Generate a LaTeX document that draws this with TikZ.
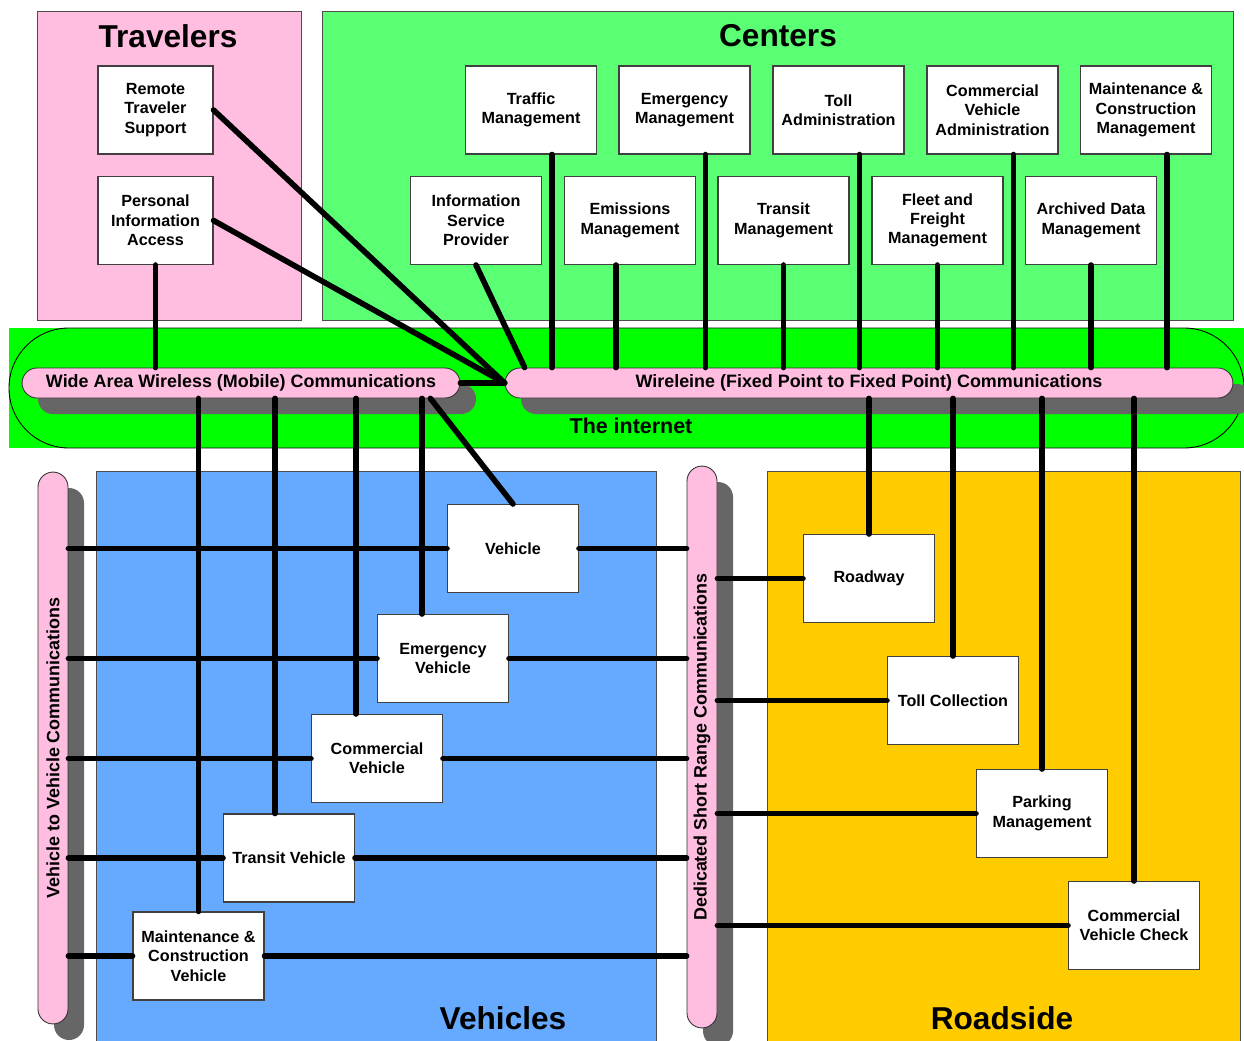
\documentclass[tikz,border=0pt]{standalone}
\usepackage{fontspec}
\setmainfont{Liberation Sans}

\definecolor{travpink}{RGB}{255,190,224}
\definecolor{centgreen}{RGB}{90,255,115}
\definecolor{netgreen}{RGB}{0,255,0}
\definecolor{vehblue}{RGB}{102,170,255}
\definecolor{roadyellow}{RGB}{255,204,0}
\definecolor{shadowgray}{RGB}{102,102,102}

\tikzset{
  box/.style={draw=black!75, line width=.6pt, fill=white, minimum width=2.62cm,
    minimum height=1.76cm, align=center, inner sep=1pt,
    font=\fontsize{9.2}{11}\selectfont\bfseries},
  pill/.style={draw=black!80, line width=.5pt, fill=travpink, rounded corners=.3cm,
    minimum height=.6cm, inner sep=0pt, font=\fontsize{10.2}{12}\selectfont\bfseries},
  pillshadow/.style={fill=shadowgray, rounded corners=.3cm},
  region/.style={draw=black!70, line width=.5pt},
  title/.style={font=\fontsize{18}{20}\selectfont\bfseries},
  link/.style={line width=3.2pt, line cap=round}
}

\begin{document}
\begin{tikzpicture}[x=0.02cm, y=-0.02cm]
  \useasboundingbox (0,0) rectangle (1244,1041);
  % the four areas
  \draw[region, fill=travpink] (37,11) rectangle (301,320);
  \draw[region, fill=centgreen] (322,11) rectangle (1233,320);
  \draw[region, fill=vehblue] (96,471) rectangle (656,1042);
  \draw[region, fill=roadyellow] (767,471) rectangle (1240,1042);
  \fill[netgreen] (9,328) rectangle (1244,448);
  \draw[line width=.5pt, rounded corners=1.2cm] (9,328) rectangle (1244,448);
  %
  \node[title] (trav) at (168,36) {Travelers};
  \node[title] (cent) at (778,36) {Centers};
  \node[title] (vehs) at (503,1018) {Vehicles};
  \node[title] (road) at (1002,1018) {Roadside};
  \node[font=\fontsize{12.2}{14}\selectfont\bfseries] (net) at (631,426) {The internet};
  %
  % communication pills and their shadows
  \fill[pillshadow] (38,384) rectangle (476,414);
  \fill[pillshadow] (521,384) rectangle (1252,414);
  \fill[pillshadow] (54,488) rectangle (84,1040);
  \fill[pillshadow] (703,482) rectangle (733,1046);
  \node[pill, minimum width=8.76cm] (waw) at (241,383)
       {Wide Area Wireless (Mobile) Communications};
  \node[pill, minimum width=14.56cm] (wire) at (869,383)
       {Wireleine (Fixed Point to Fixed Point) Communications};
  \node[pill, minimum width=11.04cm, rotate=90] (v2v) at (53,748)
       {Vehicle to Vehicle Communications};
  \node[pill, minimum width=11.24cm, rotate=90] (dsrc) at (702,747)
       {Dedicated Short Range Communications};
  %
  % travelers
  \node[box, minimum width=2.3cm] (rts) at (155.5,110) {Remote\\Traveler\\Support};
  \node[box, minimum width=2.3cm] (pia) at (155.5,220.5) {Personal\\Information\\Access};
  % centers
  \node[box] (tm)  at (531,110)   {Traffic\\Management};
  \node[box] (em)  at (684.5,110) {Emergency\\Management};
  \node[box] (ta)  at (838.5,110) {Toll\\Administration};
  \node[box] (cva) at (992.5,110) {Commercial\\Vehicle\\Administration};
  \node[box] (mcm) at (1146,110)  {Maintenance \&\\Construction\\Management};
  \node[box] (isp) at (476,220.5)   {Information\\Service\\Provider};
  \node[box] (emi) at (630,220.5)   {Emissions\\Management};
  \node[box] (trm) at (783.5,220.5) {Transit\\Management};
  \node[box] (ffm) at (937.5,220.5) {Fleet and\\Freight\\Management};
  \node[box] (adm) at (1091,220.5)  {Archived Data\\Management};
  % vehicles
  \node[box] (veh) at (513,548.5) {Vehicle};
  \node[box] (emv) at (443,658.5) {Emergency\\Vehicle};
  \node[box] (cov) at (377,758.5) {Commercial\\Vehicle};
  \node[box] (trv) at (289,858)   {Transit Vehicle};
  \node[box] (mcv) at (198.5,956) {Maintenance \&\\Construction\\Vehicle};
  % roadside
  \node[box] (rw)  at (869,578.5)  {Roadway};
  \node[box] (tc)  at (953,700.5)  {Toll Collection};
  \node[box] (pm)  at (1042,813.5) {Parking\\Management};
  \node[box] (cvc) at (1134,925.5) {Commercial\\Vehicle Check};
  %
  % links to the internet
  \draw[link] (rts.east) -- (wire.west);
  \draw[link] (pia.east) -- (wire.west);
  \draw[link] (pia.south) -- (pia.south |- waw.north);
  \draw[link] (waw.east) -- (wire.west);
  \draw[link] (isp.south) -- ([xshift=.4cm]wire.north west);
  \foreach \n in {tm,em,ta,cva,mcm}
           {\draw[link] ([xshift=.42cm]\n.south) -- ([xshift=.42cm]\n.south |- wire.north);}
  \foreach \n in {trm,ffm,adm}
           {\draw[link] (\n.south) -- (\n.south |- wire.north);}
  \draw[link] ([xshift=-.28cm]emi.south) -- ([xshift=-.28cm]emi.south |- wire.north);
  %
  % vehicles
  \foreach \n/\d in {mcv/0,trv/-.28,cov/-.42,emv/-.42}
           {\draw[link] ([xshift=\d cm]\n.north |- waw.south) -- ([xshift=\d cm]\n.north);}
  \draw[link] ([xshift=-.6cm]waw.south east) -- (veh.north);
  \foreach \n in {veh,emv,cov,trv,mcv}
           {\draw[link] (v2v.south |- \n.west) -- (\n.west);
            \draw[link] (\n.east) -- (\n.east -| dsrc.north);}
  %
  % roadside
  \foreach \n in {rw,tc,pm,cvc}
           {\draw[link] (\n.north |- wire.south) -- (\n.north);
            \draw[link] (dsrc.south |- \n.west) -- (\n.west);}
\end{tikzpicture}
\end{document}
